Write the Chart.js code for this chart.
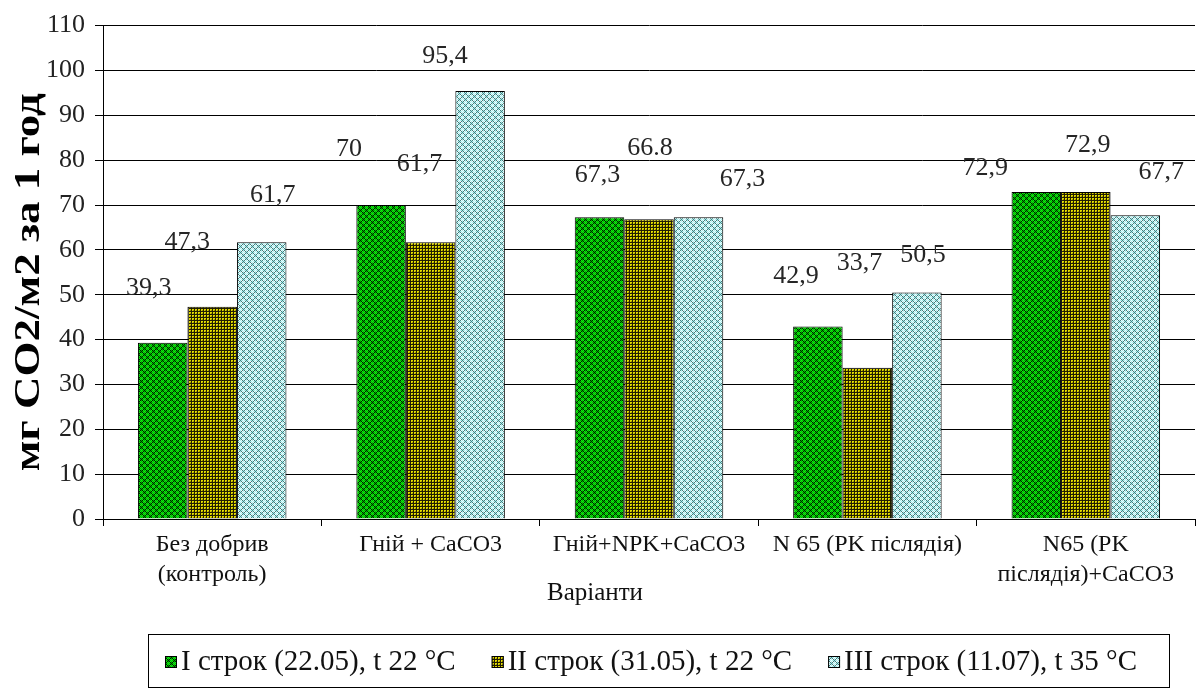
<!DOCTYPE html>
<html>
<head>
<meta charset="utf-8">
<script src="https://cdn.jsdelivr.net/npm/chart.js@4/dist/chart.umd.min.js"></script>
<style>
  html, body { margin: 0; padding: 0; background: #fff; }
  #wrap { width: 1200px; height: 691px; }
</style>
</head>
<body>
<div id="wrap"><canvas id="c" width="1200" height="691"></canvas></div>
<script>
// Fertilisation variants (x-axis categories)
const categories = [
  ['Без добрив', '(контроль)'],
  'Гній + CaCO3',
  'Гній+NPK+CaCO3',
  'N 65 (PK післядія)',
  ['N65 (PK', 'післядія)+CaCO3']
];

// CO2 emission, mg CO2/m2 per hour, for each sampling term
const term1 = [39.3, 70, 67.3, 42.9, 72.9];
const term2 = [47.3, 61.7, 66.8, 33.7, 72.9];
const term3 = [61.7, 95.4, 67.3, 50.5, 67.7];

const seriesNames = [
  'I строк (22.05), t 22 °C',
  'II строк (31.05), t 22 °C',
  'III строк (11.07), t 35 °C'
];

// y-axis range and step
const yMin = 0, yMax = 110, yStep = 10;

const yTitle = 'мг СО2/м2 за 1 год';
const xTitle = 'Варіанти';

// value labels that are written with a decimal point instead of a comma: [series, category]
const dotLabels = [[1, 2]];

// offsets (px) of each value label from the top centre of its bar
const labelShift = [
  [[-14, -55], [-32, -56], [-2, -42], [-22, -50], [-51, -24]],
  [[-25, -65], [-11, -78], [1, -71], [-8, -105], [2, -47]],
  [[11, -47], [-35, -35], [44, -38], [6, -37], [26, -43]]
];

const SERIF = '"Liberation Serif", "Times New Roman", serif';

// pixel-tile fills
function tile(size, painter) {
  const c = document.createElement('canvas');
  c.width = size; c.height = size;
  const g = c.getContext('2d');
  for (let y = 0; y < size; y++) {
    for (let x = 0; x < size; x++) {
      g.fillStyle = painter(x, y);
      g.fillRect(x, y, 1, 1);
    }
  }
  return g.createPattern(c, 'repeat');
}
function lattice(dark, bright, mid) {
  return (x, y) => {
    const d1 = (x + y) % 6, d2 = (x - y + 6) % 6;
    if (d1 === 0 || d2 === 0) return dark;
    if (d1 === 3 || d2 === 3) return bright;
    return mid;
  };
}
const fillGreen = tile(6, lattice('#001c00', '#10f010', '#00b000'));
const fillOlive = tile(3, (x, y) => {
  if (x === 1 && y === 1) return '#9a9200';
  if (x < 2 && y < 2) return '#e4dc00';
  return '#221e00';
});
const fillCyan = tile(6, lattice('#4a7a7a', '#f4ffff', '#a8ecec'));
const fills = [fillGreen, fillOlive, fillCyan];

function labelText(s, i, v) {
  const useDot = dotLabels.some(p => p[0] === s && p[1] === i);
  const t = String(v);
  return useDot ? t : t.replace('.', ',');
}

const annotations = {
  id: 'annotations',
  afterDatasetsDraw(chart) {
    const ctx = chart.ctx;
    ctx.save();
    ctx.fillStyle = '#262626';
    ctx.font = '26px ' + SERIF;
    ctx.textAlign = 'center';
    ctx.textBaseline = 'middle';
    chart.data.datasets.forEach((ds, s) => {
      const meta = chart.getDatasetMeta(s);
      meta.data.forEach((bar, i) => {
        const sh = labelShift[s][i];
        ctx.fillText(labelText(s, i, ds.data[i]), bar.x + sh[0], bar.y + sh[1]);
      });
    });
    ctx.restore();
  },
  afterDraw(chart) {
    const ctx = chart.ctx;
    const area = chart.chartArea;
    ctx.save();
    // y-axis title
    ctx.fillStyle = '#000';
    ctx.font = 'bold 36px ' + SERIF;
    ctx.textAlign = 'center';
    ctx.textBaseline = 'middle';
    ctx.translate(30, (area.top + area.bottom) / 2 + 10);
    ctx.rotate(-Math.PI / 2);
    const w = ctx.measureText(yTitle).width;
    ctx.scale(378 / w, 1);
    ctx.fillText(yTitle, 0, 0);
    ctx.restore();

    // x-axis title
    ctx.save();
    ctx.fillStyle = '#111';
    ctx.font = '25px ' + SERIF;
    ctx.textAlign = 'center';
    ctx.textBaseline = 'middle';
    ctx.fillText(xTitle, 595, 593);
    ctx.restore();

    // legend frame and entries
    ctx.save();
    ctx.strokeStyle = '#000';
    ctx.lineWidth = 1;
    ctx.strokeRect(148.5, 634.5, 1021, 53);
    ctx.font = '29px ' + SERIF;
    ctx.textBaseline = 'middle';
    ctx.textAlign = 'left';
    const cy = 662;
    let x = 165;
    seriesNames.forEach((name, s) => {
      ctx.fillStyle = fills[s];
      ctx.fillRect(x, cy - 6, 12, 12);
      ctx.strokeStyle = '#000';
      ctx.strokeRect(x + 0.5, cy - 5.5, 11, 11);
      ctx.fillStyle = '#111';
      ctx.fillText(name, x + 16, cy);
      x += 16 + ctx.measureText(name).width + 36;
    });
    ctx.restore();
  }
};

new Chart(document.getElementById('c'), {
  type: 'bar',
  data: {
    labels: categories,
    datasets: [term1, term2, term3].map((d, s) => ({
      label: seriesNames[s],
      data: d,
      backgroundColor: fills[s],
      borderColor: '#000',
      borderWidth: 1,
      borderSkipped: 'bottom',
      categoryPercentage: 0.68,
      barPercentage: 1.0
    }))
  },
  options: {
    responsive: false,
    animation: false,
    devicePixelRatio: 1,
    layout: { padding: { top: 24, right: 5, left: 0, bottom: 0 } },
    plugins: {
      legend: { display: false },
      tooltip: { enabled: false }
    },
    scales: {
      x: {
        grid: {
          offset: true,
          drawOnChartArea: false,
          drawTicks: true,
          tickLength: 7,
          color: '#000',
          lineWidth: 1
        },
        border: { display: true, color: '#000', width: 1 },
        ticks: {
          color: '#111',
          font: { family: SERIF, size: 24, lineHeight: 1.25 },
          padding: 4,
          maxRotation: 0,
          autoSkip: false
        },
        afterFit(scale) { scale.height = 172; }
      },
      y: {
        min: yMin,
        max: yMax,
        grid: {
          color: '#000',
          lineWidth: 1,
          tickLength: 8
        },
        border: { display: true, color: '#000', width: 1 },
        ticks: {
          stepSize: yStep,
          color: '#222',
          font: { family: SERIF, size: 26 },
          padding: 10
        },
        afterFit(scale) { scale.width = 103; }
      }
    }
  },
  plugins: [annotations]
});
</script>
</body>
</html>
